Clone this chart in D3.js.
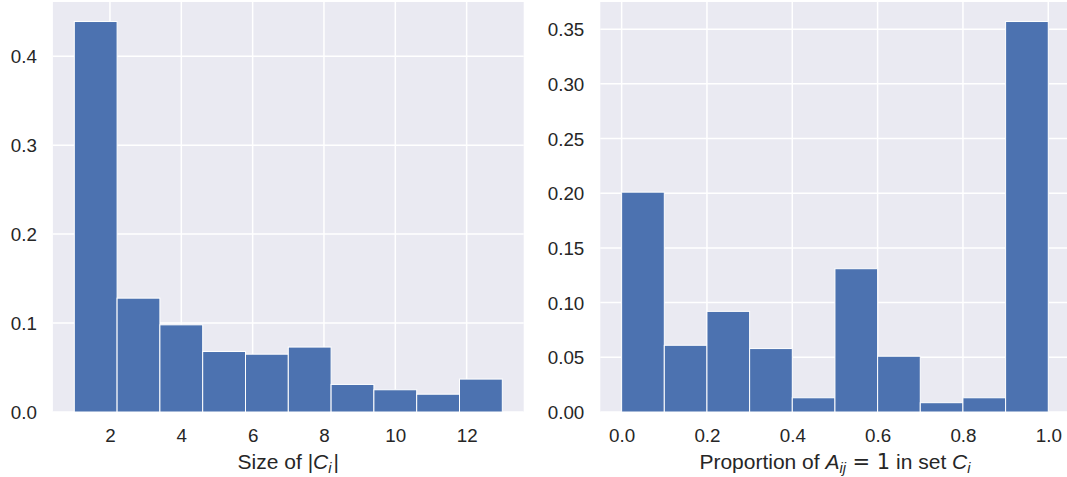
<!DOCTYPE html>
<html>
<head>
<meta charset="utf-8">
<script src="https://cdn.jsdelivr.net/npm/d3@7"></script>
<style>
  body { margin: 0; background: #fff; }
  svg { display: block; font-family: "Liberation Sans", Arial, sans-serif; }
</style>
</head>
<body>
<svg id="chart" width="1067" height="477"></svg>
<script>
// left histogram: size of |C_i|
var sizeEdges = [1, 2.2, 3.4, 4.6, 5.8, 7.0, 8.2, 9.4, 10.6, 11.8, 13];
var sizeValues = [0.439, 0.128, 0.098, 0.068, 0.065, 0.073, 0.031, 0.025, 0.020, 0.037];
var sizeXTicks = [2, 4, 6, 8, 10, 12];
var sizeYTicks = [0, 0.1, 0.2, 0.3, 0.4];

// right histogram: proportion of A_ij = 1
var propEdges = [0, 0.1, 0.2, 0.3, 0.4, 0.5, 0.6, 0.7, 0.8, 0.9, 1.0];
var propValues = [0.201, 0.061, 0.092, 0.058, 0.013, 0.131, 0.051, 0.0085, 0.013, 0.357];
var propXTicks = [0, 0.2, 0.4, 0.6, 0.8, 1.0];
var propYTicks = [0, 0.05, 0.10, 0.15, 0.20, 0.25, 0.30, 0.35];

var svg = d3.select("#chart");
var plotTop = 2, plotBottom = 412;
var textColor = "#262626";

function drawPanel(left, right, edges, values, xTicks, yTicks, xFmt, yFmt, label) {
	var lo = edges[0], hi = edges[edges.length - 1];
	var pad = (hi - lo) * 0.05;
	var x = d3.scaleLinear().domain([lo - pad, hi + pad]).range([left, right]);
	var y = d3.scaleLinear().domain([0, d3.max(values) * 1.05]).range([plotBottom, plotTop]);

	var g = svg.append("g");
	g.append("rect")
		.attr("x", left).attr("y", plotTop)
		.attr("width", right - left).attr("height", plotBottom - plotTop)
		.attr("fill", "#EAEAF2");

	// grid
	g.selectAll(".vg").data(xTicks).enter().append("line")
		.attr("x1", function(d) { return x(d); }).attr("x2", function(d) { return x(d); })
		.attr("y1", plotTop).attr("y2", plotBottom)
		.attr("stroke", "#fff").attr("stroke-width", 1.5);
	g.selectAll(".hg").data(yTicks).enter().append("line")
		.attr("x1", left).attr("x2", right)
		.attr("y1", function(d) { return y(d); }).attr("y2", function(d) { return y(d); })
		.attr("stroke", "#fff").attr("stroke-width", 1.5);

	// bars
	var bins = values.map(function(v, i) { return {x0: edges[i], x1: edges[i + 1], v: v}; });
	g.selectAll(".bar").data(bins).enter().append("rect")
		.attr("x", function(d) { return x(d.x0); })
		.attr("y", function(d) { return y(d.v); })
		.attr("width", function(d) { return x(d.x1) - x(d.x0); })
		.attr("height", function(d) { return plotBottom - y(d.v); })
		.attr("fill", "#4C72B0")
		.attr("stroke", "#fff").attr("stroke-width", 1);

	// axes (no tick marks, like seaborn darkgrid)
	var xAxis = g.append("g").attr("transform", "translate(0," + plotBottom + ")")
		.call(d3.axisBottom(x).tickValues(xTicks).tickFormat(d3.format(xFmt)).tickSize(0).tickPadding(17));
	var yAxis = g.append("g").attr("transform", "translate(" + left + ",0)")
		.call(d3.axisLeft(y).tickValues(yTicks).tickFormat(d3.format(yFmt)).tickSize(0).tickPadding(16));
	[xAxis, yAxis].forEach(function(a) {
		a.attr("font-family", null).attr("font-size", null);
		a.select(".domain").remove();
		a.selectAll("text").attr("fill", textColor).style("font-size", "18.8px");
	});
	yAxis.selectAll("text").attr("dy", "0.35em");

	var t = g.append("text")
		.attr("x", (left + right) / 2).attr("y", 469)
		.attr("text-anchor", "middle")
		.attr("fill", textColor).style("font-size", "21px");
	label(t);
}

drawPanel(52.9, 523.7, sizeEdges, sizeValues, sizeXTicks, sizeYTicks, "d", ".1f", function(t) {
	t.append("tspan").text("Size of |");
	t.append("tspan").attr("font-style", "italic").text("C");
	t.append("tspan").attr("font-style", "italic").style("font-size", "14.5px").attr("dy", 4).text("i");
	t.append("tspan").attr("dy", -4).attr("dx", 2).text("|");
});

drawPanel(600.3, 1069.6, propEdges, propValues, propXTicks, propYTicks, ".1f", ".2f", function(t) {
	t.append("tspan").text("Proportion of ");
	t.append("tspan").attr("font-style", "italic").text("A");
	t.append("tspan").attr("font-style", "italic").style("font-size", "14.5px").attr("dy", 4).text("ij");
	t.append("tspan").attr("dy", -4).attr("font-family", "DejaVu Sans").text(" = 1");
	t.append("tspan").text(" in set ");
	t.append("tspan").attr("font-style", "italic").text("C");
	t.append("tspan").attr("font-style", "italic").style("font-size", "14.5px").attr("dy", 4).text("i");
});
</script>
</body>
</html>
